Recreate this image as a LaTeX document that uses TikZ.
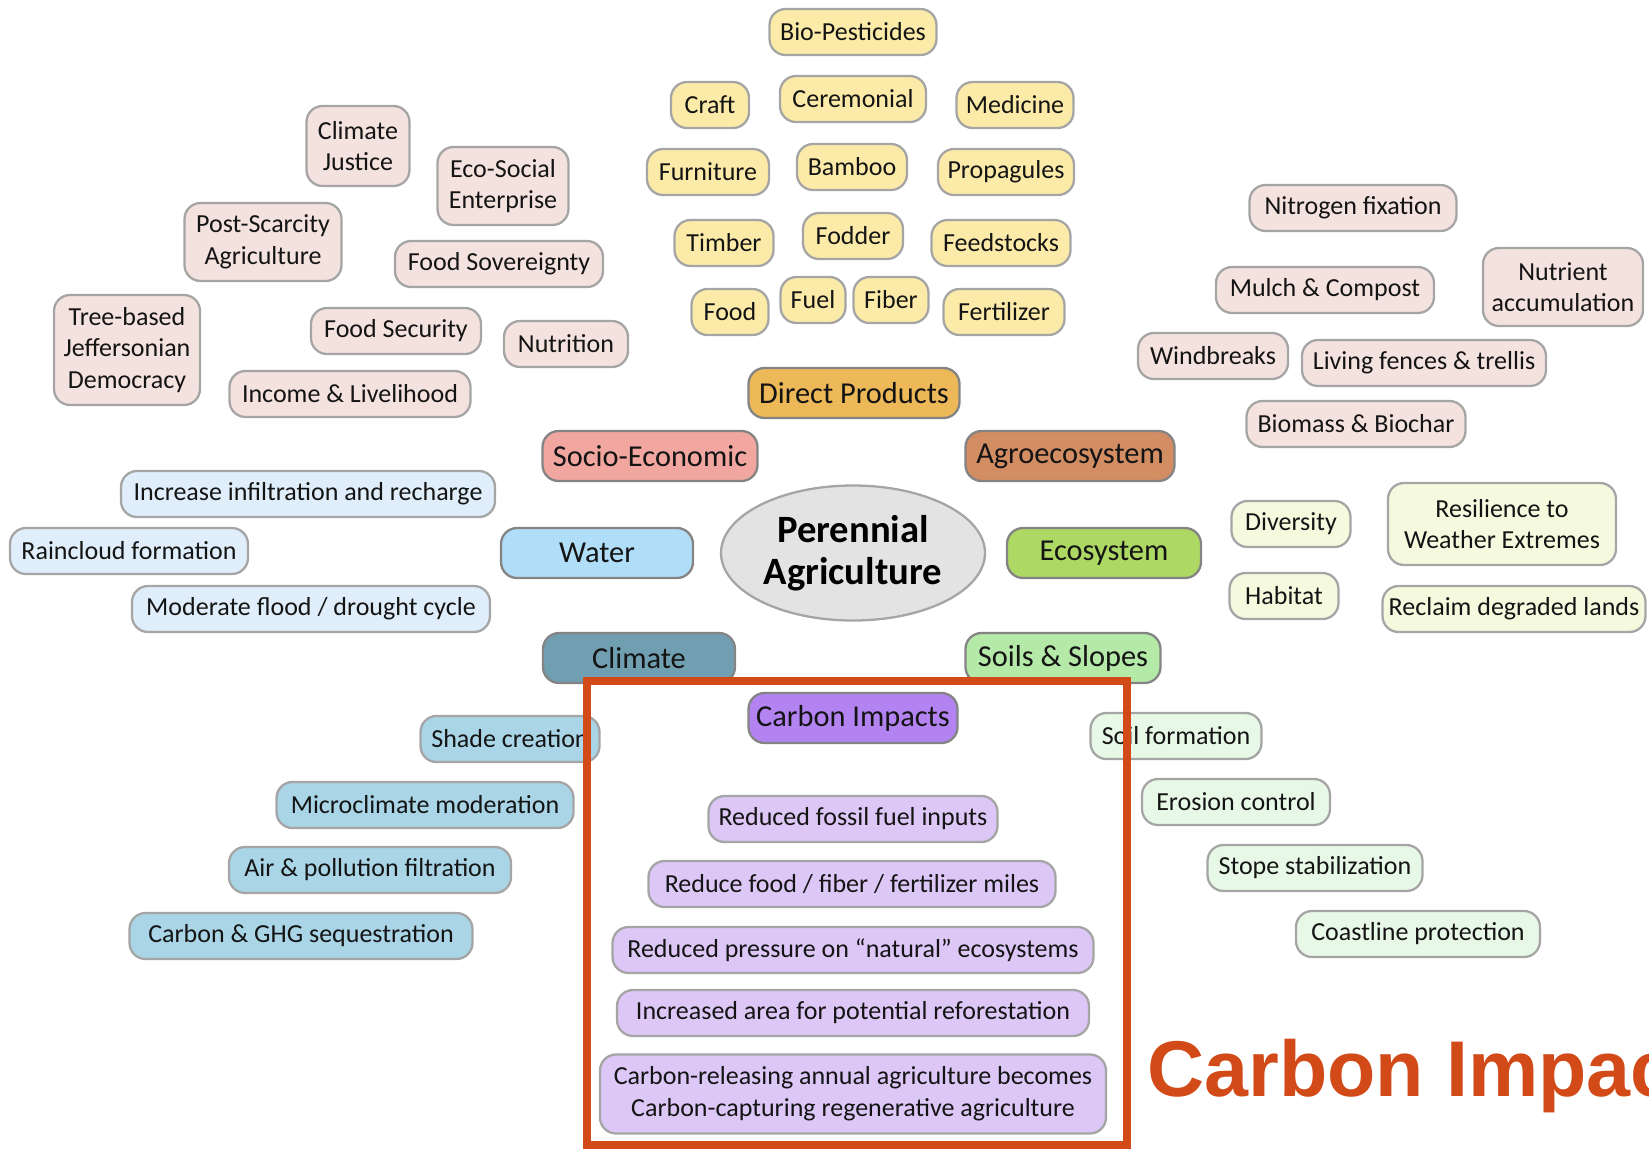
\documentclass[tikz,border=0pt]{standalone}
\usepackage{fontspec}
\setmainfont{Carlito}
\newfontfamily\bigsans{Liberation Sans}
\usetikzlibrary{shapes.geometric}
\begin{document}
\begin{tikzpicture}[
    box/.style={shape=rectangle,draw=pa_line,line width=1.3pt,rounded corners=0.32cm,inner sep=0pt,align=center,minimum height=0.92cm,text=black!92,font=\fontsize{14.8}{18}\selectfont},
    prod/.style={box,fill=pa_prod},
    socioleaf/.style={box,fill=pa_socioleaf},
    waterleaf/.style={box,fill=pa_waterleaf},
    climleaf/.style={box,fill=pa_climleaf},
    carbonleaf/.style={box,fill=pa_carbonleaf},
    soilleaf/.style={box,fill=pa_soilleaf},
    ecoleaf/.style={box,fill=pa_ecoleaf},
    cat/.style={box,minimum height=1.0cm,draw=pa_line!80!black,font=\fontsize{17.3}{20}\selectfont}
  ]
    \definecolor{pa_line}{RGB}{165,165,165}
    \definecolor{pa_prod}{RGB}{252,235,168}
    \definecolor{pa_direct}{RGB}{237,184,87}
    \definecolor{pa_socio}{RGB}{241,167,160}
    \definecolor{pa_socioleaf}{RGB}{244,226,222}
    \definecolor{pa_agro}{RGB}{211,141,99}
    \definecolor{pa_water}{RGB}{176,221,247}
    \definecolor{pa_waterleaf}{RGB}{223,238,250}
    \definecolor{pa_eco}{RGB}{172,216,99}
    \definecolor{pa_ecoleaf}{RGB}{245,250,223}
    \definecolor{pa_climate}{RGB}{113,159,178}
    \definecolor{pa_climleaf}{RGB}{169,213,231}
    \definecolor{pa_soil}{RGB}{181,233,168}
    \definecolor{pa_soilleaf}{RGB}{232,248,230}
    \definecolor{pa_carbon}{RGB}{179,131,242}
    \definecolor{pa_carbonleaf}{RGB}{220,199,246}
    \definecolor{pa_center}{RGB}{227,227,227}
    \definecolor{pa_red}{RGB}{210,74,24}
    \useasboundingbox (0,0) rectangle (32.98,-23.02);
    % direct products
    \node[prod,minimum width=3.34cm] (biopest)    at (17.06,-0.64) {Bio-Pesticides};
    \node[prod,minimum width=1.56cm] (craft)      at (14.20,-2.10) {Craft};
    \node[prod,minimum width=2.92cm] (ceremonial) at (17.06,-1.98) {Ceremonial};
    \node[prod,minimum width=2.34cm] (medicine)   at (20.30,-2.10) {Medicine};
    \node[prod,minimum width=2.44cm] (furniture)  at (14.16,-3.44) {Furniture};
    \node[prod,minimum width=2.20cm] (bamboo)     at (17.04,-3.34) {Bamboo};
    \node[prod,minimum width=2.72cm] (propagules) at (20.12,-3.44) {Propagules};
    \node[prod,minimum width=1.98cm] (timber)     at (14.48,-4.86) {Timber};
    \node[prod,minimum width=2.00cm] (fodder)     at (17.06,-4.72) {Fodder};
    \node[prod,minimum width=2.78cm] (feedstocks) at (20.02,-4.86) {Feedstocks};
    \node[prod,minimum width=1.54cm] (food)       at (14.60,-6.24) {Food};
    \node[prod,minimum width=1.30cm] (fuel)       at (16.26,-6.00) {Fuel};
    \node[prod,minimum width=1.50cm] (fiber)      at (17.82,-6.00) {Fiber};
    \node[prod,minimum width=2.42cm] (fertilizer) at (20.08,-6.24) {Fertilizer};
    % socio-economic
    \node[socioleaf,minimum width=2.06cm,minimum height=1.60cm] (climjustice) at (7.16,-2.92) {Climate\\Justice};
    \node[socioleaf,minimum width=2.62cm,minimum height=1.56cm] (ecosocial)   at (10.06,-3.72) {Eco-Social\\Enterprise};
    \node[socioleaf,minimum width=3.14cm,minimum height=1.56cm] (postscarce)  at (5.26,-4.84) {Post-Scarcity\\Agriculture};
    \node[socioleaf,minimum width=4.16cm] (foodsov)   at (9.98,-5.28) {Food Sovereignty};
    \node[socioleaf,minimum width=2.92cm,minimum height=2.20cm] (treebased) at (2.54,-7.00) {Tree-based\\Jeffersonian\\Democracy};
    \node[socioleaf,minimum width=3.40cm] (foodsec)   at (7.92,-6.62) {Food Security};
    \node[socioleaf,minimum width=2.48cm] (nutrition) at (11.32,-6.88) {Nutrition};
    \node[socioleaf,minimum width=4.82cm] (income)    at (7.00,-7.88) {Income \& Livelihood};
    % agroecosystem
    \node[socioleaf,minimum width=4.14cm] (nitrogen)   at (27.06,-4.16) {Nitrogen fixation};
    \node[socioleaf,minimum width=4.36cm] (mulch)      at (26.50,-5.80) {Mulch \& Compost};
    \node[socioleaf,minimum width=3.20cm,minimum height=1.56cm] (nutrient) at (31.26,-5.74) {Nutrient\\accumulation};
    \node[socioleaf,minimum width=3.00cm] (windbreaks) at (24.26,-7.12) {Windbreaks};
    \node[socioleaf,minimum width=4.88cm] (livfences)  at (28.48,-7.26) {Living fences \& trellis};
    \node[socioleaf,minimum width=4.38cm] (biomass)    at (27.12,-8.48) {Biomass \& Biochar};
    % water
    \node[waterleaf,minimum width=7.48cm] (infiltration) at (6.16,-9.88) {Increase infiltration and recharge};
    \node[waterleaf,minimum width=4.76cm] (raincloud)    at (2.58,-11.02) {Raincloud formation};
    \node[waterleaf,minimum width=7.16cm] (floodcycle)   at (6.22,-12.18) {Moderate flood / drought cycle};
    % ecosystem
    \node[ecoleaf,minimum width=2.38cm] (diversity)  at (25.82,-10.48) {Diversity};
    \node[ecoleaf,minimum width=4.56cm,minimum height=1.64cm] (resilience) at (30.04,-10.48) {Resilience to\\Weather Extremes};
    \node[ecoleaf,minimum width=2.18cm] (habitat)    at (25.68,-11.92) {Habitat};
    \node[ecoleaf,minimum width=5.26cm] (reclaim)    at (30.28,-12.18) {Reclaim degraded lands};
    % climate
    \node[climleaf,minimum width=3.58cm] (shade)     at (10.20,-14.78) {Shade creation};
    \node[climleaf,minimum width=5.94cm] (microclim) at (8.50,-16.10) {Microclimate moderation};
    \node[climleaf,minimum width=5.64cm] (airfilter) at (7.40,-17.40) {Air \& pollution filtration};
    \node[climleaf,minimum width=6.86cm] (ghgseq)    at (6.02,-18.72) {Carbon \& GHG sequestration};
    % soils and slopes
    \node[soilleaf,minimum width=3.42cm] (soilform) at (23.52,-14.72) {Soil formation};
    \node[soilleaf,minimum width=3.76cm] (erosion)  at (24.72,-16.04) {Erosion control};
    \node[soilleaf,minimum width=4.30cm] (stope)    at (26.30,-17.36) {Stope stabilization};
    \node[soilleaf,minimum width=4.88cm] (coast)    at (28.36,-18.68) {Coastline protection};
    % carbon impacts
    \node[carbonleaf,minimum width=5.78cm]  (fossil)    at (17.06,-16.38) {Reduced fossil fuel inputs};
    \node[carbonleaf,minimum width=8.14cm]  (miles)     at (17.04,-17.68) {Reduce food / fiber / fertilizer miles};
    \node[carbonleaf,minimum width=9.62cm]  (pressure)  at (17.06,-19.00) {Reduced pressure on ``natural'' ecosystems};
    \node[carbonleaf,minimum width=9.44cm]  (reforest)  at (17.06,-20.26) {Increased area for potential reforestation};
    \node[carbonleaf,minimum width=10.12cm,minimum height=1.58cm] (capture) at (17.06,-21.88) {Carbon-releasing annual agriculture becomes\\Carbon-capturing regenerative agriculture};
    % categories
    \node[cat,fill=pa_direct,minimum width=4.22cm]  (direct)    at (17.08,-7.86) {Direct Products};
    \node[cat,fill=pa_socio,minimum width=4.30cm]   (socio)     at (13.00,-9.12) {Socio-Economic};
    \node[cat,fill=pa_agro,minimum width=4.18cm]    (agro)      at (21.40,-9.12) {Agroecosystem};
    \node[cat,fill=pa_water,minimum width=3.84cm]   (water)     at (11.94,-11.06) {Water};
    \node[cat,fill=pa_eco,minimum width=3.88cm]     (ecosystem) at (22.08,-11.06) {Ecosystem};
    \node[cat,fill=pa_climate,minimum width=3.84cm] (climate)   at (12.78,-13.16) {Climate};
    \node[cat,fill=pa_soil,minimum width=3.90cm]    (soils)     at (21.26,-13.16) {Soils \& Slopes};
    \node[cat,fill=pa_carbon,minimum width=4.18cm]  (carbon)    at (17.06,-14.36) {Carbon Impacts};
    \node[shape=ellipse,draw=pa_line,line width=1.3pt,fill=pa_center,minimum width=5.28cm,minimum height=2.70cm,inner sep=0pt,align=center,font=\fontsize{22}{24}\selectfont\bfseries] (perennial) at (17.06,-11.06) {Perennial\\Agriculture};
    % highlight
    \draw[pa_red,line width=4.5pt] (11.74,-13.62) rectangle (22.54,-22.90);
    \node[anchor=base west,inner sep=0pt,text=pa_red,font=\bigsans\fontsize{45}{50}\selectfont\bfseries] (carbontitle) at (22.94,-21.92) {Carbon Impacts};
\end{tikzpicture}
\end{document}
